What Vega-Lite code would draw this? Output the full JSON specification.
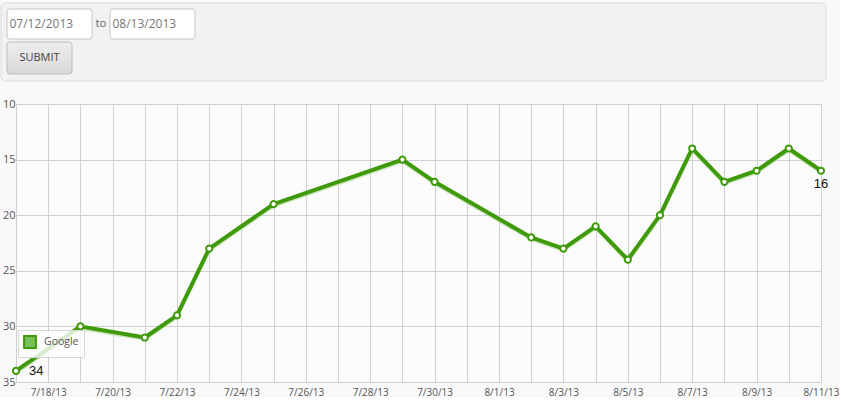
{
  "$schema": "https://vega.github.io/schema/vega-lite/v6.json",
  "description": "Google ranking over time with a date range form above",
  "background": "#f9f9f9",
  "padding": {"left": 0, "top": 2, "right": 0, "bottom": 0},
  "spacing": 15,
  "config": {
    "font": "Open Sans",
    "view": {"stroke": null}
  },
  "datasets": {
    "form": [
      {"slot": "from", "row": "dates", "kind": "input", "label": "07/12/2013"},
      {"slot": "to", "row": "dates", "kind": "sep", "label": "to"},
      {"slot": "until", "row": "dates", "kind": "input", "label": "08/13/2013"},
      {"slot": "from", "row": "buttons", "kind": "button", "label": "SUBMIT"}
    ],
    "ranks": [
      {"date": "2013-07-17", "rank": 34},
      {"date": "2013-07-19", "rank": 30},
      {"date": "2013-07-21", "rank": 31},
      {"date": "2013-07-22", "rank": 29},
      {"date": "2013-07-23", "rank": 23},
      {"date": "2013-07-25", "rank": 19},
      {"date": "2013-07-29", "rank": 15},
      {"date": "2013-07-30", "rank": 17},
      {"date": "2013-08-02", "rank": 22},
      {"date": "2013-08-03", "rank": 23},
      {"date": "2013-08-04", "rank": 21},
      {"date": "2013-08-05", "rank": 24},
      {"date": "2013-08-06", "rank": 20},
      {"date": "2013-08-07", "rank": 14},
      {"date": "2013-08-08", "rank": 17},
      {"date": "2013-08-09", "rank": 16},
      {"date": "2013-08-10", "rank": 14},
      {"date": "2013-08-11", "rank": 16}
    ]
  },
  "vconcat": [
    {
      "width": 795,
      "height": 78,
      "layer": [
        {
          "data": {"values": [{"part": "panel"}]},
          "mark": {
            "type": "point",
            "shape": "M-0.99,-0.09455L0.99,-0.09455Q1,-0.09455 1,-0.0848L1,0.0848Q1,0.09455 0.99,0.09455L-0.99,0.09455Q-1,0.09455 -1,0.0848L-1,-0.0848Q-1,-0.09455 -0.99,-0.09455Z",
            "size": 680625,
            "filled": true,
            "fill": "#f2f2f2",
            "stroke": "#dcdcdc",
            "strokeWidth": 1,
            "strokeJoin": "round",
            "opacity": 1
          },
          "encoding": {
            "x": {"field": "part", "type": "nominal", "axis": null},
            "y": {"field": "part", "type": "nominal", "axis": null}
          }
        },
        {
          "data": {"name": "form"},
          "encoding": {
            "x": {
              "field": "slot",
              "type": "nominal",
              "axis": null,
              "scale": {"type": "point", "domain": ["from", "to", "until"], "range": [33.5, 136.5], "padding": 0}
            },
            "y": {
              "field": "row",
              "type": "nominal",
              "axis": null,
              "scale": {"type": "point", "domain": ["dates", "buttons"], "range": [21, 55], "padding": 0}
            }
          },
          "layer": [
            {
              "transform": [{"filter": "datum.kind == 'input'"}],
              "mark": {
                "type": "point",
                "shape": "M-0.93,-0.353L0.93,-0.353Q1,-0.353 1,-0.283L1,0.283Q1,0.353 0.93,0.353L-0.93,0.353Q-1,0.353 -1,0.283L-1,-0.283Q-1,-0.353 -0.93,-0.353Z",
                "size": 7225,
                "filled": true,
                "fill": "#ffffff",
                "stroke": "#c6c6c6",
                "strokeWidth": 1,
                "strokeJoin": "round",
                "opacity": 1
              }
            },
            {
              "transform": [{"filter": "datum.kind == 'button'"}],
              "mark": {
                "type": "point",
                "shape": "M-0.93,-0.376L0.46,-0.376Q0.53,-0.376 0.53,-0.306L0.53,0.306Q0.53,0.376 0.46,0.376L-0.93,0.376Q-1,0.376 -1,0.306L-1,-0.306Q-1,-0.376 -0.93,-0.376Z",
                "size": 7225,
                "filled": true,
                "fill": {
                  "gradient": "linear",
                  "x1": 0, "y1": 0, "x2": 0, "y2": 1,
                  "stops": [{"offset": 0, "color": "#eeeeee"}, {"offset": 1, "color": "#d8d8d8"}]
                },
                "stroke": "#bdbdbd",
                "strokeWidth": 1,
                "strokeJoin": "round",
                "opacity": 1
              }
            },
            {
              "transform": [{"filter": "datum.kind == 'input'"}],
              "mark": {"type": "text", "align": "left", "dx": -40, "fontSize": 12, "color": "#777777"},
              "encoding": {"text": {"field": "label"}}
            },
            {
              "transform": [{"filter": "datum.kind == 'sep'"}],
              "mark": {"type": "text", "fontSize": 11.5, "color": "#666666"},
              "encoding": {"text": {"field": "label"}}
            },
            {
              "transform": [{"filter": "datum.kind == 'button'"}],
              "mark": {"type": "text", "dx": -10, "fontSize": 11, "color": "#444444"},
              "encoding": {"text": {"field": "label"}}
            }
          ]
        }
      ],
      "resolve": {"scale": {"x": "independent", "y": "independent"}}
    },
    {
      "width": 805,
      "height": 278,
      "view": {"fill": "#fbfbfb", "stroke": "#cfcfcf"},
      "data": {"name": "ranks"},
      "encoding": {
        "x": {
          "field": "date",
          "type": "temporal",
          "scale": {
            "type": "utc",
            "domain": [
              {"year": 2013, "month": 7, "date": 17, "utc": true},
              {"year": 2013, "month": 8, "date": 11, "utc": true}
            ]
          },
          "axis": {
            "title": null,
            "tickCount": {"interval": "day", "step": 1},
            "labelExpr": "((datum.value - utc(2013, 6, 18)) / 86400000) % 2 == 0 ? utcFormat(datum.value, '%-m/%-d/%y') : ''",
            "grid": true,
            "gridColor": "#d0d0d0",
            "ticks": false,
            "domain": false,
            "labelOverlap": false,
            "labelFlush": false,
            "labelPadding": 5,
            "labelFontSize": 10,
            "labelColor": "#555555"
          }
        },
        "y": {
          "field": "rank",
          "type": "quantitative",
          "scale": {"domain": [10, 35], "reverse": true, "nice": false, "zero": false},
          "axis": {
            "title": null,
            "values": [10, 15, 20, 25, 30, 35],
            "grid": true,
            "gridColor": "#d0d0d0",
            "ticks": false,
            "domain": false,
            "labelPadding": 1,
            "labelFontSize": 11,
            "labelColor": "#555555"
          }
        }
      },
      "layer": [
        {
          "mark": {"type": "line", "color": "#a9d48f", "opacity": 0.6, "strokeWidth": 3, "yOffset": 2}
        },
        {
          "mark": {"type": "line", "strokeWidth": 4, "strokeJoin": "round"},
          "encoding": {
            "color": {
              "datum": "Google",
              "type": "nominal",
              "scale": {"range": ["#3f9a0a"]},
              "legend": {
                "title": null,
                "orient": "none",
                "legendX": 2,
                "legendY": 327,
                "symbolType": "square",
                "symbolSize": 140,
                "labelFontSize": 10.5,
                "labelColor": "#555555",
                "labelOffset": 7,
                "fillColor": "rgba(255,255,255,0.8)",
                "strokeColor": "#d6d6d6",
                "padding": 5,
                "encode": {
                  "symbols": {"update": {"fill": {"value": "#79bf5c"}, "stroke": {"value": "#e2e2e2"}, "strokeWidth": {"value": 2}}}
                }
              }
            }
          }
        },
        {
          "mark": {"type": "point", "filled": true, "fill": "#ffffff", "stroke": "#3f9a0a", "strokeWidth": 2, "size": 38, "opacity": 1}
        },
        {
          "transform": [{"filter": "datum.rank == 34"}],
          "mark": {"type": "text", "align": "left", "dx": 13, "fontSize": 13, "font": "Liberation Sans", "color": "#111111"},
          "encoding": {"text": {"field": "rank", "type": "quantitative"}}
        },
        {
          "transform": [{"filter": "time(datum.date) == utc(2013, 7, 11)"}],
          "mark": {"type": "text", "dy": 13, "fontSize": 13, "font": "Liberation Sans", "color": "#111111"},
          "encoding": {"text": {"field": "rank", "type": "quantitative"}}
        }
      ]
    }
  ]
}
